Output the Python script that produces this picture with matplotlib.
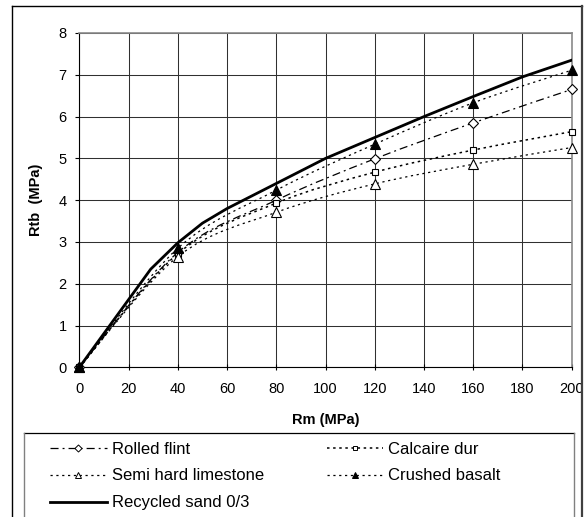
import numpy as np
import matplotlib
matplotlib.use('Agg')
import matplotlib.pyplot as plt
from matplotlib.path import Path
from matplotlib.patches import PathPatch
from matplotlib.lines import Line2D

plt.rcParams['font.family'] = ['Liberation Sans', 'DejaVu Sans']
plt.rcParams['lines.scale_dashes'] = False

# values
rm_marks = [0, 40, 80, 120, 160, 200]
rolled_flint = [0, 2.75, 4.0, 4.99, 5.85, 6.65]
calcaire_dur = [0, 2.72, 3.93, 4.67, 5.2, 5.64]
semi_hard = [0, 2.65, 3.71, 4.39, 4.86, 5.26]
crushed_basalt = [0, 2.85, 4.24, 5.34, 6.33, 7.11]

rm_sand = [0, 29, 40, 50, 60, 80, 100, 120, 140, 160, 180, 200]
recycled_sand = [0, 2.35, 2.98, 3.45, 3.8, 4.4, 5.0, 5.5, 6.0, 6.48, 6.95, 7.35]

x_ticks = [0, 20, 40, 60, 80, 100, 120, 140, 160, 180, 200]
y_ticks = [0, 1, 2, 3, 4, 5, 6, 7, 8]

W, H = 587, 517


def smooth_path(x, y):
    # excel style smoothed line, drawn as bezier segments
    pts = np.column_stack([x, y]).astype(float)
    verts = [pts[0]]
    codes = [Path.MOVETO]
    n = len(pts)
    for i in range(n - 1):
        p0 = pts[i - 1] if i > 0 else pts[i]
        p1 = pts[i]
        p2 = pts[i + 1]
        p3 = pts[i + 2] if i + 2 < n else pts[i + 1]
        verts += [p1 + (p2 - p0) / 6, p2 - (p3 - p1) / 6, p2]
        codes += [Path.CURVE4] * 3
    return Path(verts, codes)


fig = plt.figure(figsize=(W / 100, H / 100), dpi=100)
ax = fig.add_axes([79.3 / W, 1 - 367.4 / H, 492.4 / W, 334.4 / H])

series = [
    ('Rolled flint', rolled_flint, 'D', 'white', (0, (5.8, 2.9, 1.4, 2.9)), 0.9, 5.0),
    ('Calcaire dur', calcaire_dur, 's', 'white', (0, (1.8, 2.6)), 1.1, 5.0),
    ('Semi hard limestone', semi_hard, '^', 'white', (0, (1.6, 2.6)), 0.9, 6.6),
    ('Crushed basalt', crushed_basalt, '^', 'black', (0, (1.6, 2.6)), 0.9, 6.6),
]

handles = {}
for name, vals, mk, mfc, ls, lw, ms in series:
    ax.add_patch(PathPatch(smooth_path(rm_marks, vals), fill=False, edgecolor='black',
                           linestyle=ls, linewidth=lw, zorder=3))
    ax.plot(rm_marks, vals, linestyle='none', marker=mk, markersize=ms,
            markerfacecolor=mfc, markeredgecolor='black', markeredgewidth=0.8, zorder=4,
            clip_on=False)
    handles[name] = Line2D([], [], color='black', linestyle=ls, linewidth=lw, marker=mk,
                           markersize=ms * 0.72, markerfacecolor=mfc,
                           markeredgecolor='black', markeredgewidth=0.7)

ax.plot(rm_sand, recycled_sand, color='black', linewidth=2.0, zorder=5)
handles['Recycled sand 0/3'] = Line2D([], [], color='black', linewidth=2.0)

ax.set_xlim(0, 200)
ax.set_ylim(0, 8)
ax.set_xticks(x_ticks)
ax.set_yticks(y_ticks)
ax.grid(True, color='#303030', linewidth=0.75)
ax.set_axisbelow(True)
for side in ['top', 'right']:
    ax.spines[side].set_color('#8a8a8a')
    ax.spines[side].set_linewidth(1.2)
for side in ['left', 'bottom']:
    ax.spines[side].set_linewidth(0.8)
ax.tick_params(axis='x', direction='inout', length=5, width=0.8, labelsize=10.5, pad=8)
ax.tick_params(axis='y', direction='out', length=3, width=0.8, labelsize=10.5, pad=6)
ax.tick_params(top=False, right=False)

ax.set_xlabel('Rm (MPa)', fontsize=10.5, fontweight='bold', labelpad=12)
ax.set_ylabel('Rtb  (MPa)', fontsize=10.5, fontweight='bold', labelpad=11)

leg_kw = dict(loc='upper left', frameon=False, fontsize=12, handlelength=3.4,
              handletextpad=0.3, labelspacing=0.72, borderpad=0, borderaxespad=0,
              numpoints=1)
col1 = ['Rolled flint', 'Semi hard limestone', 'Recycled sand 0/3']
col2 = ['Calcaire dur', 'Crushed basalt']
fig.legend([handles[k] for k in col1], col1, bbox_to_anchor=(50 / W, 1 - 441.5 / H), **leg_kw)
fig.legend([handles[k] for k in col2], col2, bbox_to_anchor=(326.7 / W, 1 - 441.5 / H), **leg_kw)

# outer chart frame and legend box (bottom cut off in the source image)
fig.add_artist(Line2D([12 / W, 12 / W], [0, 1 - 5.5 / H], transform=fig.transFigure,
                      color='black', linewidth=1.0))
fig.add_artist(Line2D([12 / W, 582 / W], [1 - 5.5 / H, 1 - 5.5 / H], transform=fig.transFigure,
                      color='black', linewidth=1.0))
fig.add_artist(Line2D([582 / W, 582 / W], [0, 1 - 5.5 / H], transform=fig.transFigure,
                      color='#404040', linewidth=1.6))
fig.add_artist(Line2D([24 / W, 574 / W], [1 - 433 / H, 1 - 433 / H], transform=fig.transFigure,
                      color='black', linewidth=0.9))
fig.add_artist(Line2D([24 / W, 24 / W], [0, 1 - 433 / H], transform=fig.transFigure,
                      color='#808080', linewidth=1.0))
fig.add_artist(Line2D([574 / W, 574 / W], [0, 1 - 433 / H], transform=fig.transFigure,
                      color='#808080', linewidth=1.0))

fig.savefig('out.png', dpi=100)
